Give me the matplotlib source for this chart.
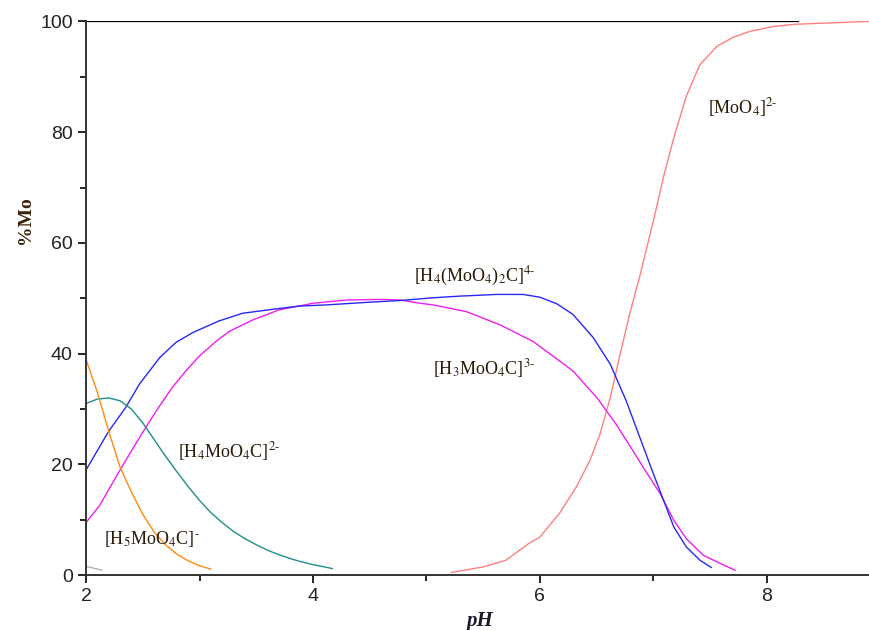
import matplotlib
matplotlib.use('Agg')
import matplotlib.pyplot as plt
import numpy as np

plt.rcParams['mathtext.fontset'] = 'stix'

# species distribution curves
ph_h5 = [2.0, 2.1, 2.2, 2.3, 2.4, 2.5, 2.6, 2.7, 2.8, 2.9, 3.0, 3.1]
pct_h5 = [39, 33, 26, 19.5, 15, 11, 7.8, 5.5, 3.8, 2.6, 1.7, 1.1]

ph_h4 = [2.0, 2.1, 2.2, 2.3, 2.4, 2.5, 2.6, 2.7, 2.8, 2.9, 3.0, 3.1, 3.2, 3.3,
         3.4, 3.5, 3.6, 3.7, 3.8, 3.9, 4.0, 4.1, 4.17]
pct_h4 = [31, 31.8, 32, 31.5, 30, 27.5, 24.5, 21.5, 18.7, 16, 13.5, 11.3, 9.5,
          7.9, 6.6, 5.5, 4.5, 3.7, 3.0, 2.4, 1.9, 1.5, 1.2]

ph_dimer = [2.0, 2.2, 2.35, 2.47, 2.65, 2.79, 2.94, 3.17, 3.38, 3.64, 3.88,
            4.11, 4.5, 4.77, 5.06, 5.3, 5.62, 5.85, 6.0, 6.15, 6.29, 6.47,
            6.62, 6.76, 6.88, 7.0, 7.09, 7.18, 7.29, 7.41, 7.51]
pct_dimer = [19, 26, 30.3, 34.5, 39.3, 42, 43.8, 45.9, 47.3, 48, 48.6,
             48.8, 49.3, 49.6, 50.1, 50.4, 50.7, 50.7, 50.2, 49, 47.1, 42.9,
             38.1, 31.5, 24.9, 18.3, 13.5, 8.7, 5.1, 2.7, 1.4]

ph_h3 = [2.0, 2.12, 2.3, 2.49, 2.63, 2.76, 2.88, 3.0, 3.15, 3.26, 3.47, 3.7,
         4.0, 4.3, 4.6, 4.77, 4.91, 5.06, 5.35, 5.65, 5.94, 6.29, 6.5,
         6.67, 6.8, 6.91, 7.06, 7.18, 7.29, 7.44, 7.59, 7.72]
pct_h3 = [9.5, 12.6, 19, 25.5, 30, 33.9, 36.9, 39.6, 42.3, 44, 46.1, 47.9,
          49.1, 49.7, 49.8, 49.7, 49.2, 48.8, 47.6, 45.2, 42.2, 36.9, 32.1,
          27.3, 23.1, 19.5, 14.7, 9.9, 6.6, 3.6, 2.1, 0.9]

ph_moo4 = [5.22, 5.5, 5.7, 5.9, 6.0, 6.17, 6.32, 6.44, 6.53, 6.62, 6.7, 6.79,
           6.88, 7.0, 7.09, 7.18, 7.29, 7.41, 7.56, 7.7, 7.85, 8.06, 8.26, 8.9]
pct_moo4 = [0.5, 1.5, 2.7, 5.7, 6.9, 11.1, 15.9, 20.7, 25.5, 32.1, 39.3, 47.1,
            54, 64, 72, 79, 86.5, 92.2, 95.5, 97.1, 98.2, 99.1, 99.5, 100]

ph_h6 = [2.0, 2.14]
pct_h6 = [1.6, 0.9]

ph_total = [2.0, 8.27]
pct_total = [100, 100]

labels = [
    (r'[MoO$_4$]$^{2\text{-}}$', 7.48, 84.5),
    (r'[H$_4$(MoO$_4$)$_2$C]$^{4\text{-}}$', 4.89, 54),
    (r'[H$_3$MoO$_4$C]$^{3\text{-}}$', 5.06, 37.3),
    (r'[H$_4$MoO$_4$C]$^{2\text{-}}$', 2.81, 22.3),
    (r'[H$_5$MoO$_4$C]$^{\text{-}}$', 2.16, 6.5),
]

fig = plt.figure(figsize=(8.69, 6.30), dpi=100)
ax = fig.add_axes([0.099, 0.087, 0.901, 0.879])

lw = 1.0
ax.plot(ph_total, pct_total, color='black', lw=1.6)
ax.plot(ph_moo4, pct_moo4, color='#ff8080', lw=lw)
ax.plot(ph_h3, pct_h3, color='#f01ef0', lw=lw)
ax.plot(ph_dimer, pct_dimer, color='#2828f5', lw=lw)
ax.plot(ph_h4, pct_h4, color='#1f8f8a', lw=lw)
ax.plot(ph_h5, pct_h5, color='#ff8a10', lw=lw)
ax.plot(ph_h6, pct_h6, color='#b4b4b4', lw=lw)

for txt, x, y in labels:
    ax.text(x, y, txt, fontsize=13, family='Liberation Serif',
            color='#2a1a08', ha='left', va='center')

ax.set_xlim(2, 8.9)
ax.set_ylim(0, 100)
ax.set_xticks([2, 4, 6, 8])
ax.set_xticks([3, 5, 7], minor=True)
ax.set_yticks([0, 20, 40, 60, 80, 100])
ax.set_yticks([10, 30, 50, 70, 90], minor=True)
ax.tick_params(which='both', direction='out', labelsize=14, labelcolor='#222222',
               width=1.2)
ax.tick_params(which='major', length=6)
ax.tick_params(which='minor', length=4)
for lab in ax.get_xticklabels() + ax.get_yticklabels():
    lab.set_family('Liberation Sans')

for s in ['top', 'right']:
    ax.spines[s].set_visible(False)
for s in ['left', 'bottom']:
    ax.spines[s].set_linewidth(1.4)
    ax.spines[s].set_color('#333333')

fig.text(0.029, 0.65, '%Mo', rotation=90, fontsize=14, fontweight='bold',
         family='Liberation Serif', color='#3a2208', ha='center', va='center')
fig.text(0.552, 0.015, 'pH', fontsize=15, fontweight='bold', style='italic',
         family='Liberation Serif', color='#1a1a2a', ha='center', va='center')

fig.savefig('out.png', dpi=100)
